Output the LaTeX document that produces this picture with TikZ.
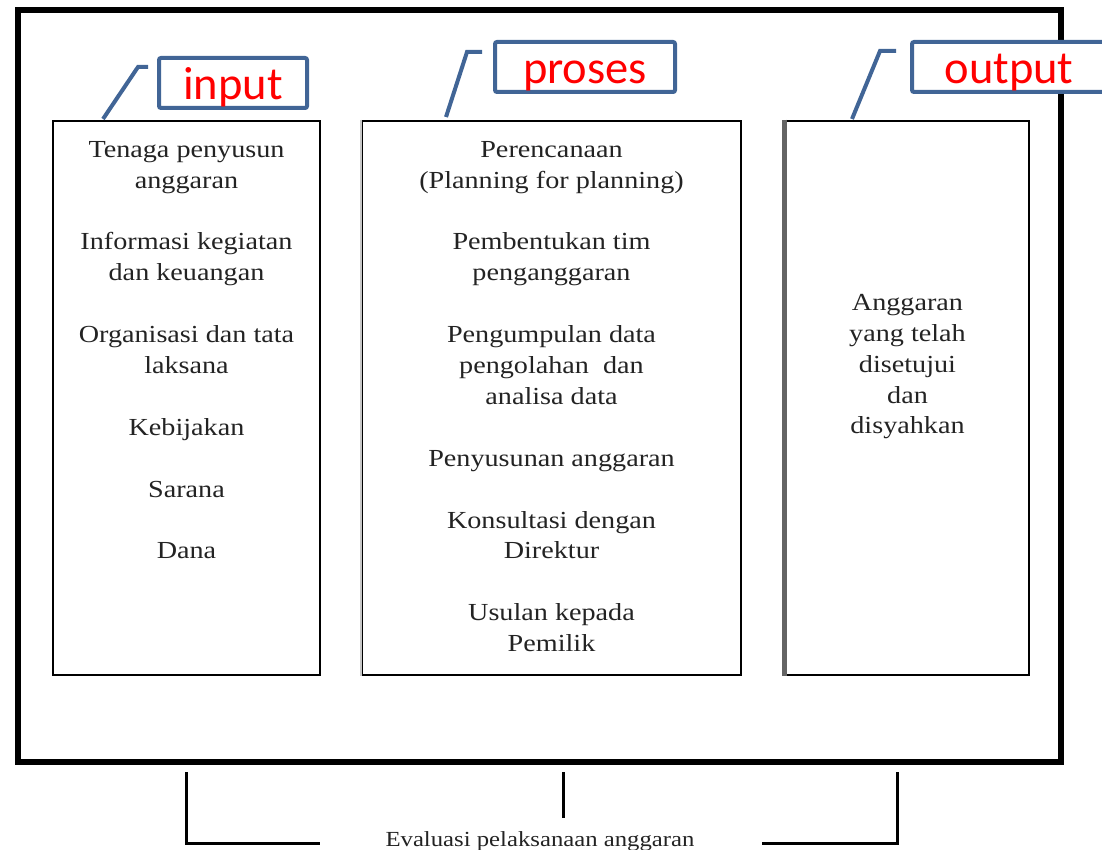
\documentclass[tikz,border=0pt]{standalone}
\usepackage{fontspec}
\setmainfont{Liberation Serif}
\newfontfamily\labfont{Carlito}
\definecolor{labblue}{RGB}{65,101,150}
\definecolor{labred}{RGB}{255,0,0}
\definecolor{txtgray}{RGB}{35,35,35}
\definecolor{edgelight}{RGB}{200,200,200}
\definecolor{edgedark}{RGB}{100,100,100}
\begin{document}
\begin{tikzpicture}[x=1pt,y=-1pt,
  frame/.style={line width=6pt},
  colbox/.style={draw=black,line width=2.5pt,rectangle,inner sep=0pt,minimum height=554pt},
  coltext/.style={align=center,anchor=north,inner sep=0pt,xscale=1.15,text=txtgray,font=\fontsize{24.5}{30.9}\selectfont},
  tagbox/.style={draw=labblue,line width=4pt,rounded corners=2pt,fill=white,inner sep=0pt,minimum height=50pt,text height=38pt,text depth=4pt,text=labred,font=\labfont\fontsize{46.5}{50}\selectfont},
  leader/.style={draw=labblue,line width=4pt},
  bracket/.style={draw=black,line width=3pt},
  evaltext/.style={anchor=base,inner sep=0pt,xscale=1.15,text=txtgray,font=\fontsize{21.5}{24}\selectfont}]
\useasboundingbox (0,0) rectangle (1102,850);
% outer frame
\draw[frame] (18,10) rectangle (1061,762);
% column boxes
\node[colbox,minimum width=267pt] (inbox) at (186.5,398) {};
\node[colbox,minimum width=379pt] (prbox) at (551.5,398) {};
\node[colbox,minimum width=243pt] (outbox) at (907.5,398) {};
\draw[line width=2.5pt,edgelight] (prbox.north west) -- (prbox.south west);
\draw[line width=5pt,edgedark] (outbox.north west) -- (outbox.south west);
% column texts
\node[coltext] (intext) at (186.5,141) {Tenaga penyusun\\anggaran\\[30.9pt]Informasi kegiatan\\dan keuangan\\[30.9pt]Organisasi dan tata\\laksana\\[30.9pt]Kebijakan\\[30.9pt]Sarana\\[30.9pt]Dana};
\node[coltext] (prtext) at (551.5,141) {Perencanaan\\(Planning for planning)\\[30.9pt]Pembentukan tim\\penganggaran\\[30.9pt]Pengumpulan data\\pengolahan\ \ dan\\analisa data\\[30.9pt]Penyusunan anggaran\\[30.9pt]Konsultasi dengan\\Direktur\\[30.9pt]Usulan kepada\\Pemilik};
\node[coltext] (outtext) at (907.5,294) {Anggaran\\yang telah\\disetujui\\dan\\disyahkan};
% labels
\node[tagbox,minimum width=148pt] (intag) at (233,83) {input};
\node[tagbox,minimum width=180pt] (prtag) at (585,67) {proses};
\node[tagbox,minimum width=194pt] (outtag) at (1009,67) {output};
% leader lines
\coordinate (inA) at (103,119); \coordinate (inB) at (138,67); \coordinate (inC) at (148,67);
\coordinate (prA) at (446,117); \coordinate (prB) at (467,52); \coordinate (prC) at (482,52);
\coordinate (outA) at (852,119); \coordinate (outB) at (880,51); \coordinate (outC) at (896,51);
\draw[leader] (inA) -- (inB) -- (inC);
\draw[leader] (prA) -- (prB) -- (prC);
\draw[leader] (outA) -- (outB) -- (outC);
% evaluation bracket
\coordinate (bl1) at (186,772); \coordinate (bl2) at (186,843); \coordinate (bl3) at (320,843);
\coordinate (bm1) at (563,772); \coordinate (bm2) at (563,818);
\coordinate (br1) at (897,772); \coordinate (br2) at (897,843); \coordinate (br3) at (762,843);
\draw[bracket] (bl1) -- (bl2) -- (bl3);
\draw[bracket] (bm1) -- (bm2);
\draw[bracket] (br1) -- (br2) -- (br3);
\node[evaltext] (eval) at (540,846) {Evaluasi pelaksanaan anggaran};
\end{tikzpicture}
\end{document}
